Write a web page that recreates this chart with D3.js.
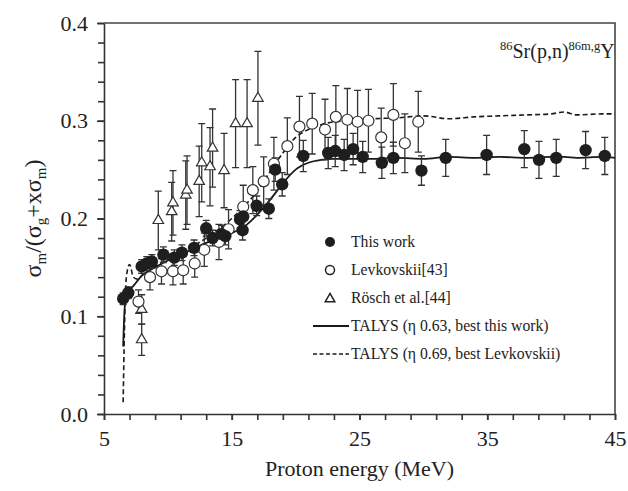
<!DOCTYPE html>
<html lang="en">
<head>
<meta charset="utf-8">
<title>86Sr(p,n) isomeric ratio</title>
<script src="https://cdn.jsdelivr.net/npm/d3@7"></script>
<style>
  body { margin: 0; background: #fff; }
  .axis path, .axis line { stroke: #333; stroke-width: 1.6; }
</style>
</head>
<body>
<div id="vis"></div>
<script>
// this work (filled circles)
var workE   = [6.5, 6.9, 7.95, 8.35, 8.75, 9.65, 10.5, 11.1, 12.05, 13.0, 13.5, 14.2, 14.5, 15.65, 15.9, 15.85, 16.95, 17.9, 18.4, 18.95, 20.6, 22.55, 23.1, 23.8, 24.5, 25.25, 26.75, 27.65, 29.85, 31.75, 34.95, 37.9, 39.05, 40.4, 42.7, 44.2];
var workR   = [.118, .124, .151, .154, .156, .163, .160, .165, .170, .190, .180, .184, .182, .199, .202, .188, .213, .210, .250, .235, .264, .267, .269, .265, .271, .263, .257, .262, .249, .262, .265, .271, .260, .262, .270, .264];
var workErr = [.006, .006, .007, .007, .007, .008, .008, .008, .008, .008, .008, .009, .009, .009, .010, .010, .010, .010, .012, .012, .016, .016, .016, .016, .016, .016, .016, .016, .015, .019, .020, .019, .019, .019, .019, .019];

// Levkovskii [43] (open circles)
var levE   = [7.7, 8.6, 9.5, 10.4, 11.2, 12.1, 12.85, 14.0, 14.75, 15.9, 16.65, 17.5, 18.3, 19.35, 20.3, 21.3, 22.3, 23.15, 24.05, 24.85, 25.7, 26.7, 27.65, 28.55, 29.6];
var levR   = [.115, .140, .146, .146, .147, .154, .168, .176, .189, .212, .229, .238, .256, .274, .294, .297, .291, .304, .301, .299, .300, .283, .306, .277, .299];
var levErr = [.012, .013, .013, .014, .014, .014, .017, .018, .020, .022, .024, .025, .027, .029, .031, .031, .031, .032, .032, .032, .032, .030, .032, .030, .031];

// Rosch et al. [44] (open triangles)
var roeE   = [7.95, 7.95, 9.25, 10.3, 10.4, 11.4, 11.5, 12.45, 12.65, 13.3, 13.5, 14.4, 15.3, 16.2, 17.05];
var roeR   = [.076, .107, .198, .207, .216, .224, .229, .238, .257, .253, .272, .249, .297, .297, .323];
var roeErr = [.016, .015, .030, .030, .033, .035, .035, .036, .040, .040, .040, .038, .045, .045, .048];

// TALYS curves
var talE     = [6.5, 6.6, 6.75, 7.0, 7.3, 7.6, 8, 9, 10, 11, 12, 13, 14, 15, 16, 17, 18, 19, 20, 21, 22, 23, 24, 26, 28, 30, 32, 34, 36, 38, 40, 41, 42, 44, 45];
var talBest  = [.069, .105, .122, .127, .131, .136, .142, .150, .157, .163, .169, .175, .180, .185, .192, .204, .219, .236, .250, .257, .260, .261, .261, .261, .262, .261, .263, .262, .263, .262, .263, .263, .262, .263, .262];
var talLevk  = [.012, .085, .140, .153, .140, .138, .142, .151, .158, .165, .172, .180, .189, .200, .213, .228, .248, .267, .283, .291, .296, .299, .300, .302, .303, .305, .302, .304, .305, .306, .307, .309, .306, .307, .307];

var xTicks = [5, 15, 25, 35, 45];
var yTicks = [0.0, 0.1, 0.2, 0.3, 0.4];

var legendLabels = ["This work", "Levkovskii[43]", "Rösch et al.[44]", "TALYS (η 0.63, best this work)", "TALYS (η 0.69, best Levkovskii)"];

var serif = "'Liberation Serif', 'DejaVu Serif', serif";

var W = 628, H = 491;
var margin = {left: 104, right: 13, top: 23, bottom: 77};
var width = W - margin.left - margin.right;
var height = H - margin.top - margin.bottom;

var svg = d3.select("#vis").append("svg")
  .attr("width", W)
  .attr("height", H)
  .attr("font-family", serif);

var g = svg.append("g")
  .attr("transform", "translate(" + margin.left + "," + margin.top + ")");

var x = d3.scaleLinear().domain([5, 45]).range([0, width]);
var y = d3.scaleLinear().domain([0, 0.4]).range([height, 0]);

// frame (top and right)
g.append("path")
  .attr("d", "M0,0H" + width + "V" + height)
  .attr("fill", "none")
  .attr("stroke", "#444")
  .attr("stroke-width", 1.6);

// minor ticks
g.append("g").attr("class", "axis")
  .attr("transform", "translate(0," + height + ")")
  .call(d3.axisBottom(x).tickValues(d3.range(5, 45.1, 2)).tickSize(6).tickFormat(""))
  .select(".domain").remove();
g.append("g").attr("class", "axis")
  .call(d3.axisLeft(y).tickValues(d3.range(0, 0.401, 0.02)).tickSize(6).tickFormat(""))
  .select(".domain").remove();

var xAxis = g.append("g").attr("class", "axis")
  .attr("transform", "translate(0," + height + ")")
  .call(d3.axisBottom(x).tickValues(xTicks).tickSize(6).tickSizeOuter(0).tickPadding(10));
xAxis.attr("font-family", serif);
xAxis.selectAll("text").style("font-size", "22px").attr("fill", "#222");

var yAxis = g.append("g").attr("class", "axis")
  .call(d3.axisLeft(y).tickValues(yTicks).tickSize(7).tickSizeOuter(0).tickPadding(9).tickFormat(d3.format(".1f")));
yAxis.attr("font-family", serif);
yAxis.selectAll("text").style("font-size", "22px").attr("fill", "#222");

// TALYS lines
var line = function(vals) {
  return d3.line()
    .x(function(d, i) { return x(talE[i]); })
    .y(function(d) { return y(d); })
    .curve(d3.curveMonotoneX)(vals);
};
g.append("path").attr("d", line(talBest))
  .attr("fill", "none").attr("stroke", "#1a1a1a").attr("stroke-width", 1.8);
g.append("path").attr("d", line(talLevk))
  .attr("fill", "none").attr("stroke", "#1a1a1a").attr("stroke-width", 1.6)
  .attr("stroke-dasharray", "5,3");

// error bars
function errBars(xs, ys, es, w) {
  var eg = g.append("g").attr("stroke", "#333").attr("stroke-width", 1.3).attr("fill", "none");
  xs.forEach(function(e, i) {
    var cx = x(e), y1 = y(ys[i] + es[i]), y2 = y(Math.max(0, ys[i] - es[i]));
    eg.append("path").attr("d",
      "M" + cx + "," + y1 + "V" + y2 +
      "M" + (cx - w) + "," + y1 + "H" + (cx + w) +
      "M" + (cx - w) + "," + y2 + "H" + (cx + w));
  });
}
errBars(roeE, roeR, roeErr, 3.5);
errBars(levE, levR, levErr, 3.5);
errBars(workE, workR, workErr, 3.5);

var tri = d3.symbol().type(d3.symbolTriangle).size(48);

g.append("g").selectAll("path").data(roeE).enter().append("path")
  .attr("d", tri)
  .attr("transform", function(d, i) { return "translate(" + x(d) + "," + y(roeR[i]) + ")"; })
  .attr("fill", "#fff").attr("stroke", "#333").attr("stroke-width", 1.2);

g.append("g").selectAll("circle").data(levE).enter().append("circle")
  .attr("cx", function(d) { return x(d); })
  .attr("cy", function(d, i) { return y(levR[i]); })
  .attr("r", 5.5)
  .attr("fill", "#fff").attr("stroke", "#333").attr("stroke-width", 1.2);

g.append("g").selectAll("circle").data(workE).enter().append("circle")
  .attr("cx", function(d) { return x(d); })
  .attr("cy", function(d, i) { return y(workR[i]); })
  .attr("r", 6.2)
  .attr("fill", "#1e1e1e");

// legend
var lg = svg.append("g");
var ly = [242, 270, 298, 326, 354];
lg.selectAll("text").data(legendLabels).enter().append("text")
  .attr("x", 351)
  .attr("y", function(d, i) { return ly[i]; })
  .attr("dy", "0.35em")
  .attr("fill", "#222")
  .style("font-family", serif)
  .style("font-size", "15.7px")
  .text(function(d) { return d; });
lg.append("circle").attr("cx", 330).attr("cy", ly[0]).attr("r", 5).attr("fill", "#1e1e1e");
lg.append("circle").attr("cx", 330).attr("cy", ly[1]).attr("r", 4.5).attr("fill", "#fff").attr("stroke", "#222").attr("stroke-width", 1.5);
lg.append("path").attr("d", d3.symbol().type(d3.symbolTriangle).size(40))
  .attr("transform", "translate(330," + (ly[2] + 1) + ")")
  .attr("fill", "#fff").attr("stroke", "#222").attr("stroke-width", 1.5);
lg.append("line").attr("x1", 313).attr("x2", 349).attr("y1", ly[3]).attr("y2", ly[3])
  .attr("stroke", "#1a1a1a").attr("stroke-width", 1.8);
lg.append("line").attr("x1", 313).attr("x2", 349).attr("y1", ly[4]).attr("y2", ly[4])
  .attr("stroke", "#1a1a1a").attr("stroke-width", 1.6).attr("stroke-dasharray", "4,2.5");

// reaction title
var title = svg.append("text").attr("x", 500).attr("y", 58)
  .attr("fill", "#222").style("font-family", serif).style("font-size", "20px");
title.append("tspan").attr("dy", "-8").style("font-size", "12.5px").text("86");
title.append("tspan").attr("dy", "8").text("Sr(p,n)");
title.append("tspan").attr("dy", "-8").style("font-size", "12.5px").text("86m,g");
title.append("tspan").attr("dy", "8").text("Y");

// axis titles
svg.append("text")
  .attr("x", margin.left + width / 2)
  .attr("y", 476)
  .attr("text-anchor", "middle")
  .attr("fill", "#222")
  .style("font-family", serif)
  .style("font-size", "22px")
  .text("Proton energy (MeV)");

var yl = svg.append("text")
  .attr("transform", "translate(41," + (margin.top + height / 2) + ") rotate(-90)")
  .attr("text-anchor", "middle")
  .attr("fill", "#222")
  .style("font-family", serif)
  .style("font-size", "24px");
yl.append("tspan").text("σ");
yl.append("tspan").attr("dy", "5").style("font-size", "15px").text("m");
yl.append("tspan").attr("dy", "-5").text("/(σ");
yl.append("tspan").attr("dy", "5").style("font-size", "15px").text("g");
yl.append("tspan").attr("dy", "-5").text("+xσ");
yl.append("tspan").attr("dy", "5").style("font-size", "15px").text("m");
yl.append("tspan").attr("dy", "-5").text(")");
</script>
</body>
</html>
